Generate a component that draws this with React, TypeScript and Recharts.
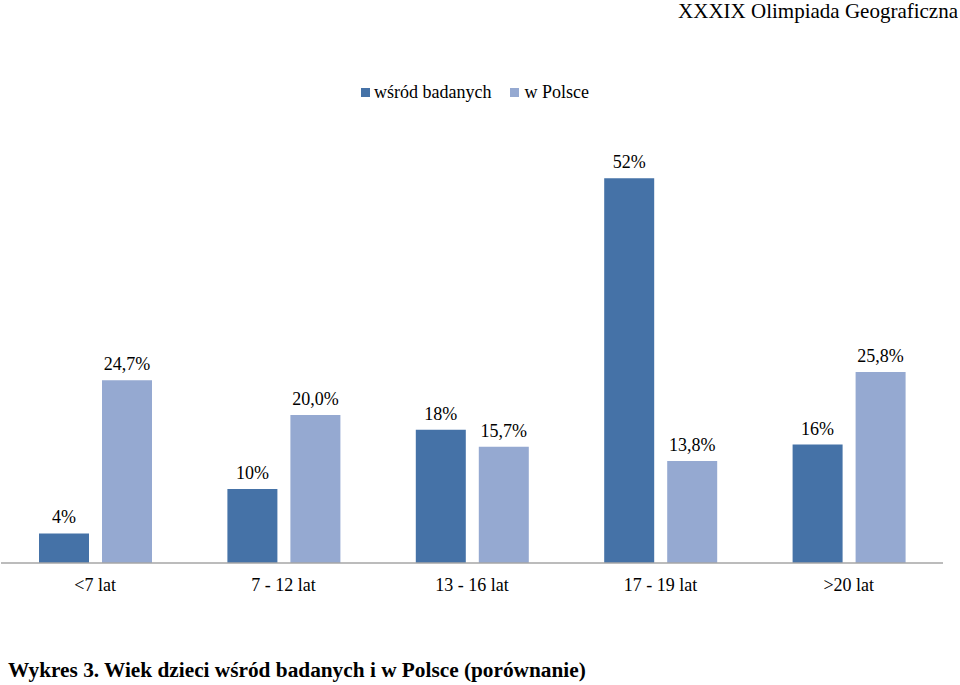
import React from "react";
import { BarChart, Bar, XAxis, YAxis, LabelList, Legend } from "recharts";

const categories = ["<7 lat", "7 - 12 lat", "13 - 16 lat", "17 - 19 lat", ">20 lat"];
const surveyed = [4, 10, 18, 52, 16];
const poland = [24.7, 20.0, 15.7, 13.8, 25.8];
const surveyedLabels = ["4%", "10%", "18%", "52%", "16%"];
const polandLabels = ["24,7%", "20,0%", "15,7%", "13,8%", "25,8%"];
const seriesNames = ["wśród badanych", "w Polsce"];

const DARK = "#4572A7";
const LIGHT = "#95A9D1";
const FONT = "'Liberation Serif', 'Times New Roman', serif";

const data = categories.map((c, i) => ({
  cat: c,
  a: surveyed[i],
  b: poland[i],
  la: surveyedLabels[i],
  lb: polandLabels[i],
}));

const LegendContent = () => (
  <div style={{ display: "flex", justifyContent: "center", alignItems: "center", fontFamily: FONT, fontSize: 18, color: "#000", lineHeight: "20px", height: 20, paddingRight: 10 }}>
    <span style={{ display: "inline-block", width: 9, height: 9, background: DARK, marginRight: 4 }} />
    <span style={{ marginRight: 19 }}>{seriesNames[0]}</span>
    <span style={{ display: "inline-block", width: 9, height: 9, background: LIGHT, marginRight: 5 }} />
    <span>{seriesNames[1]}</span>
  </div>
);

export default function App() {
  return (
    <div style={{ position: "absolute", left: 0, top: 0, width: 960, height: 685, background: "#fff", overflow: "hidden", fontFamily: FONT }}>
      <style>{`.recharts-wrapper, .recharts-wrapper * { font-family: 'Liberation Serif', 'Times New Roman', serif !important; }`}</style>
      <div style={{ position: "absolute", right: 2, top: 0, fontFamily: FONT, fontSize: 21, color: "#000", lineHeight: "23px" }}>
        XXXIX Olimpiada Geograficzna
      </div>
      <BarChart
        width={960}
        height={620}
        data={data}
        margin={{ top: 99, right: 17, left: 1, bottom: 17 }}
        barCategoryGap="20%"
        barGap={13}
      >
        <XAxis
          dataKey="cat"
          axisLine={{ stroke: "#A6A6A6", strokeWidth: 1.5 }}
          tickLine={false}
          height={40}
          tickMargin={9}
          tick={{ fontFamily: FONT, fontSize: 18, fill: "#000" }}
          interval={0}
        />
        <YAxis hide domain={[0, 60]} />
        <Legend verticalAlign="top" content={<LegendContent />} wrapperStyle={{ top: 82, left: 0, width: 960, height: 20 }} />
        <Bar dataKey="a" fill={DARK} isAnimationActive={false} barSize={50}>
          <LabelList dataKey="la" position="top" offset={10} style={{ fontFamily: FONT, fontSize: 18, fill: "#000" }} />
        </Bar>
        <Bar dataKey="b" fill={LIGHT} isAnimationActive={false} barSize={50}>
          <LabelList dataKey="lb" position="top" offset={10} style={{ fontFamily: FONT, fontSize: 18, fill: "#000" }} />
        </Bar>
      </BarChart>
      <div style={{ position: "absolute", left: 8, top: 656, fontFamily: FONT, fontSize: 21.3, fontWeight: "bold", color: "#000", lineHeight: "28px" }}>
        Wykres 3. Wiek dzieci wśród badanych i w Polsce (porównanie)
      </div>
    </div>
  );
}
